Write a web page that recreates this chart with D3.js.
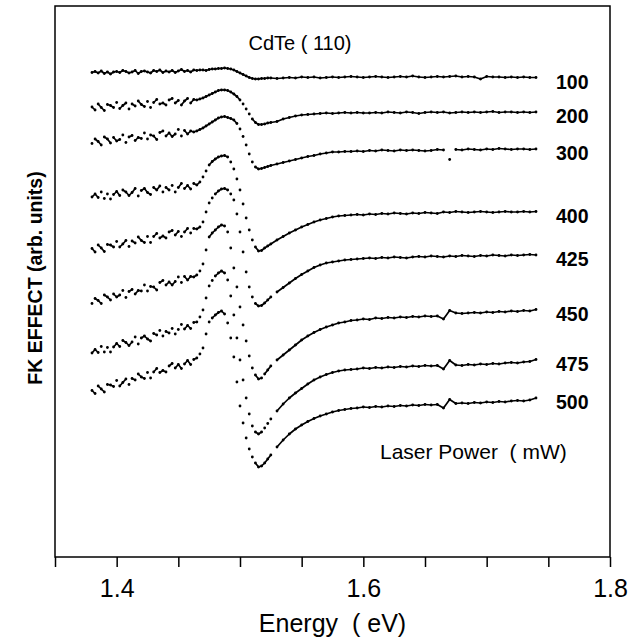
<!DOCTYPE html>
<html>
<head>
<meta charset="utf-8">
<script src="https://cdn.jsdelivr.net/npm/d3@7"></script>
<style>
body { margin: 0; background: #fff; }
svg text { font-family: "Liberation Sans", Arial, sans-serif; fill: #000; }
</style>
</head>
<body>
<svg id="chart" width="630" height="641"></svg>
<script>
// photon energy (eV) of each sample; finer below and around the band edge
var energy = [1.3800, 1.3825, 1.3850, 1.3875, 1.3900, 1.3925, 1.3950, 1.3975, 1.4000, 1.4025, 1.4050, 1.4075,
    1.4100, 1.4125, 1.4150, 1.4175, 1.4200, 1.4225, 1.4250, 1.4275, 1.4300, 1.4325, 1.4350, 1.4375,
    1.4400, 1.4425, 1.4450, 1.4475, 1.4500, 1.4525, 1.4550, 1.4575, 1.4600, 1.4625,
    1.4650, 1.4675, 1.4700, 1.4725, 1.4750, 1.4775, 1.4800, 1.4825, 1.4850, 1.4875, 1.4900, 1.4925, 1.4950, 1.4975,
    1.5000, 1.5025, 1.5050, 1.5075, 1.5100, 1.5125, 1.5150, 1.5175, 1.5200, 1.5225, 1.5250,
    1.530, 1.535, 1.540, 1.545, 1.550, 1.555, 1.560, 1.565, 1.570, 1.575, 1.580, 1.585, 1.590, 1.595, 1.600, 1.605, 1.610, 1.615, 1.620,
    1.625, 1.630, 1.635, 1.640, 1.645, 1.650, 1.655, 1.660, 1.665, 1.670, 1.675, 1.680, 1.685, 1.690, 1.695, 1.700, 1.705, 1.710,
    1.715, 1.720, 1.725, 1.730, 1.735, 1.740]

var powers = ["100", "200", "300", "400", "425", "450", "475", "500"]

// FK effect (arb. units, curves stacked with offsets)
var fk100 = [482.5, 483.5, 482, 484, 481.5, 483, 481, 483, 483.5, 482.5, 484.5, 483.5, 482, 483, 484.5, 481.5, 483.5,
    484, 483, 482, 484.5, 483.5, 485, 482.5, 484, 483, 484.5, 482.5, 484, 485.5, 483.5, 484.5, 483, 485,
    484.5, 485, 485, 484.5, 485.5, 486, 486, 486.5, 486.5, 487, 486.5, 486, 485, 483.5,
    482, 480.5, 479, 477.5, 476.5, 476, 476, 476.5, 476.5, 477, 477,
    476.5, 477, 477.5, 477, 478, 477.5, 478, 477, 477.5, 478, 477.5, 478, 478.5, 478, 477.5, 478, 478.5, 478, 477.5, 478, 478.5, 478,
    479, 478, 477.5, 478, 478.5, 478, 478.5, 479, 478, 478.5, 478, 476, 478.5, 478, 478, 477.5, 478, 477.5, 478, 477.5, 477.5]
var fk200 = [448, 445, 451, 447.5, 444.5, 450.5, 449.5, 447.5, 452.5, 446.5, 449.5, 452, 446, 451, 449, 454, 450.5,
    448.5, 453.5, 447.5, 452.5, 455.5, 451, 452, 450, 455, 456.5, 452, 454.5, 450, 454, 456.5, 452, 455.5,
    455, 456, 457, 458.5, 460, 461.5, 463, 464.5, 465, 465, 464.5, 463, 461, 458.5,
    455, 451, 446, 441, 436, 432.5, 430.5, 430.5, 431, 432, 432.5,
    433.5, 436, 437.5, 439, 440, 440.5, 441, 441.5, 442, 441.5, 442, 442.5, 442, 442.5, 442,
    442, 442.5, 442, 443, 442.5, 442, 443, 442.5, 441.5, 442.5, 443, 442.5, 443, 442, 442.5, 443, 442.5, 443, 442.5, 443,
    443.5, 442.5, 443, 443, 442.5, 443, 442.5, 443]
var fk300 = [411.5, 416, 413.5, 410, 418, 416, 412, 417.5, 414, 415.5, 420, 412.5, 418, 419.5, 414.5, 417.5, 416.5,
    422, 416, 420, 419, 415.5, 422.5, 424, 419, 422, 418.5, 421, 425.5, 419, 424.5, 421, 424, 423,
    424, 425.5, 427, 429, 431, 433, 435, 437, 438, 438.5, 437.5, 436.5, 435, 431.5,
    426, 418.5, 410, 401, 393, 388, 386, 386.5, 387.5, 388.5, 389.5,
    391, 392.5, 394, 395.5, 397, 398.5, 399.5, 401, 402, 403, 403, 403.5, 403.5, 404, 403.5,
    404.5, 404, 405, 404.5, 404, 405, 404.5, 405, 404.5, 404, 404.5, 405.5, 405, 395.5, 405.5, 405, 406, 405.5, 405, 406,
    405.5, 406.5, 406, 405.5, 406, 406, 405.5, 406]
var fk400 = [358, 361, 357.5, 363, 356.5, 361, 356, 360.5, 363.5, 359.5, 365, 363, 359.5, 362.5, 366.5, 359, 364.5,
    366.5, 362.5, 360.5, 367.5, 365, 369, 363, 367.5, 365, 369.5, 363, 367.5, 371.5, 366.5, 369.5, 366, 371.5,
    370, 373, 378, 384, 390, 393.5, 396, 398, 399, 399.5, 398, 393, 386, 376,
    365, 351, 337, 325, 315, 308, 304, 304.5, 307, 309, 311,
    315, 318.5, 322, 325, 328, 330.5, 333, 335, 336.5, 338, 339, 339.5, 340, 340.5, 340,
    341, 340.5, 341.5, 341, 342, 341.5, 341, 342, 341.5, 342.5, 342, 341.5, 343, 342.5, 343.5, 343, 342.5, 343, 343.5, 343,
    342.5, 343, 343.5, 343, 343, 343.5, 343, 343.5]
var fk425 = [306.5, 303, 310, 307, 303.5, 310.5, 310, 308, 313.5, 308, 311, 314.5, 308.5, 314, 312, 318, 314.5,
    312.5, 318.5, 312.5, 318.5, 321.5, 317, 319, 317, 323, 324.5, 320, 323.5, 318.5, 323, 326.5, 322, 326.5,
    326, 328, 333, 343, 352, 357, 361, 364, 366, 366.5, 365, 361, 355, 341,
    323, 303, 283, 268, 258, 251.5, 249, 249.5, 252, 255, 258,
    263, 267.5, 272, 276.5, 280.5, 284, 287.5, 290, 292, 293, 294, 295, 295.5, 296, 296.5,
    297, 296.5, 297.5, 297, 298, 297.5, 297, 298, 298.5, 298, 299, 298.5, 298, 299, 298.5, 299.5, 299, 298.5, 299.5, 299,
    300, 299.5, 299, 300, 299.5, 300, 300.5, 300]
var fk450 = [251.5, 256.5, 254.5, 251.5, 260, 258, 255, 261, 258, 260, 264.5, 257.5, 263.5, 265.5, 261, 264.5, 264,
    270, 264, 268.5, 268, 265, 272.5, 274.5, 270, 273, 270, 273.5, 278, 272.5, 278.5, 275, 278.5, 278,
    280, 284, 291, 305, 318, 322, 325, 328, 330, 329, 323, 307, 287, 268,
    248, 230, 214, 199, 187, 180, 176, 177, 181, 185, 189,
    195, 200, 205, 210, 215, 219, 222.5, 225.5, 228, 230, 232, 233, 234.5, 235, 236,
    235.5, 237, 236.5, 237.5, 237, 238, 237.5, 238.5, 238, 239, 238.5, 239, 236, 244.5, 242, 241.5, 242, 242.5, 242, 243,
    242.5, 243.5, 243, 244, 243.5, 244.5, 244, 245.5]
var fk475 = [202, 205.5, 202.5, 208.5, 203, 207.5, 203, 208, 211.5, 208.5, 214.5, 212.5, 209.5, 213, 218, 211, 217,
    219, 216, 214, 221.5, 220, 224.5, 219, 223.5, 222, 226.5, 221, 225.5, 230.5, 226, 229.5, 226.5, 232.5,
    233, 238, 245, 257, 269, 274.5, 279, 282, 284, 282, 275, 259, 240, 217,
    195, 175, 157, 141, 129, 123, 121, 123, 127, 131.5, 136,
    144, 151, 157, 162, 166.5, 171, 175, 178, 180.5, 182.5, 184, 185, 185.5, 186, 187,
    186.5, 187.5, 187, 188, 187.5, 188.5, 188, 189, 188.5, 189.5, 189, 189.5, 186, 194.5, 190, 189.5, 190.5, 190, 191, 190.5,
    191.5, 191, 192, 192.5, 192, 193, 193.5, 195.5]
var fk500 = [164.5, 161.5, 169, 166, 163, 170.5, 170, 168.5, 174.5, 169, 172.5, 176, 170.5, 176.5, 175, 181, 178,
    176.5, 182.5, 177, 183, 186.5, 182.5, 184.5, 183, 189, 191.5, 187, 190.5, 186.5, 191, 194.5, 190.5, 195.5,
    197, 201, 207, 221, 233, 237, 240, 242.5, 244, 241, 232, 217, 198, 173,
    149, 132, 117, 106, 98, 92, 88, 89, 92, 96, 100,
    108, 115, 121, 126, 130, 133.5, 136.5, 139, 141, 143, 144.5, 145.5, 146.5, 147, 148,
    147.5, 148.5, 148, 149, 148.5, 149.5, 149, 150, 149.5, 150.5, 150, 150.5, 147, 155.5, 151.5, 152, 151.5, 152.5, 152, 153,
    152.5, 153.5, 153, 154, 154.5, 154, 155, 157]

var curves = [fk100, fk200, fk300, fk400, fk425, fk450, fk475, fk500]

var majorTicks = [1.4, 1.6, 1.8]
var allTicks = [1.35, 1.4, 1.45, 1.5, 1.55, 1.6, 1.65, 1.7, 1.75, 1.8]

var fullWidth = 630
var fullHeight = 641
var margin = { top: 6, right: 20, bottom: 84, left: 55 }

var xScale = d3.scaleLinear().domain([1.35, 1.8]).range([margin.left, fullWidth - margin.right])
var yScale = d3.scaleLinear().domain([0, 550]).range([555, 5])

var svg = d3.select("#chart")

// frame
svg.append("rect")
    .attr("x", margin.left)
    .attr("y", margin.top)
    .attr("width", fullWidth - margin.left - margin.right)
    .attr("height", fullHeight - margin.top - margin.bottom)
    .attr("fill", "none")
    .attr("stroke", "#000")
    .attr("stroke-width", 1.5)

var xAxis = d3.axisBottom(xScale)
    .tickValues(allTicks)
    .tickSize(10)
    .tickPadding(12)
    .tickFormat(function (d) {
        return majorTicks.indexOf(d) >= 0 ? d3.format(".1f")(d) : ""
    })

var gx = svg.append("g")
    .attr("transform", "translate(0," + (fullHeight - margin.bottom) + ")")
    .call(xAxis)
gx.select(".domain").remove()
gx.selectAll(".tick line").attr("stroke", "#000").attr("stroke-width", 1.5)
gx.selectAll(".tick text").style("font-size", "25px")

svg.append("text")
    .attr("x", (margin.left + fullWidth - margin.right) / 2)
    .attr("y", 632)
    .attr("text-anchor", "middle")
    .style("font-size", "25px")
    .style("white-space", "pre")
    .text("Energy  ( eV)")

svg.append("text")
    .attr("transform", "translate(42,278) rotate(-90)")
    .attr("text-anchor", "middle")
    .style("font-size", "19.5px")
    .style("font-weight", "bold")
    .text("FK EFFECT (arb. units)")

curves.forEach(function (vals, k) {
    var g = svg.append("g").attr("class", "curve p" + powers[k])
    var pts = vals.map(function (v, i) { return [xScale(energy[i]), yScale(v), energy[i]] })

    // close neighbours merge into a trace; the noisy pre-edge and the
    // steep edge stay as loose dots, the smooth tail reads as a line
    var segs = d3.pairs(pts).filter(function (p) {
        var limit = p[0][2] >= 1.53 ? 9 : 4
        return Math.abs(p[0][1] - p[1][1]) <= limit
    })

    g.selectAll("line")
        .data(segs)
        .enter()
        .append("line")
        .attr("x1", function (p) { return p[0][0] })
        .attr("y1", function (p) { return p[0][1] })
        .attr("x2", function (p) { return p[1][0] })
        .attr("y2", function (p) { return p[1][1] })
        .attr("stroke", "#000")
        .attr("stroke-width", 1.7)
        .attr("stroke-linecap", "round")

    g.selectAll("circle")
        .data(pts)
        .enter()
        .append("circle")
        .attr("cx", function (p) { return p[0] })
        .attr("cy", function (p) { return p[1] })
        .attr("r", 1.4)
        .attr("fill", "#000")

    g.append("text")
        .attr("x", xScale(energy[energy.length - 1]) + 20)
        .attr("y", yScale(vals[vals.length - 1]) + 11)
        .style("font-size", "19.5px")
        .style("font-weight", "bold")
        .text(powers[k])
})

svg.append("text")
    .attr("x", 300)
    .attr("y", 50)
    .attr("text-anchor", "middle")
    .style("font-size", "20px")
    .style("white-space", "pre")
    .text("CdTe ( 110)")

svg.append("text")
    .attr("x", 380)
    .attr("y", 459)
    .style("font-size", "21px")
    .style("white-space", "pre")
    .text("Laser Power  ( mW)")
</script>
</body>
</html>
